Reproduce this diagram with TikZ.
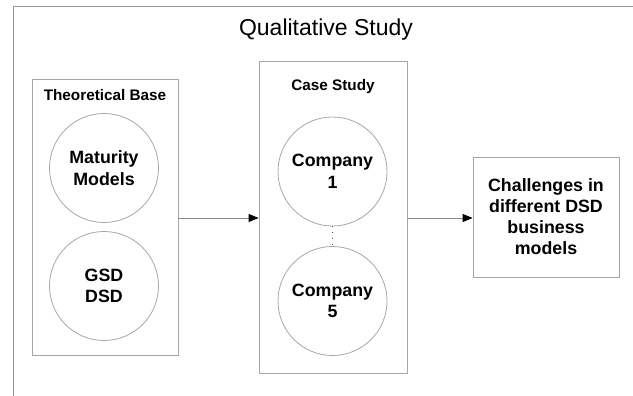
\documentclass[tikz,border=0pt]{standalone}
\usepackage{fontspec}
\setmainfont{Liberation Sans}
\usetikzlibrary{positioning,arrows.meta}

\begin{document}
\begin{tikzpicture}[x=1pt,y=-1pt,
  frame/.style={draw=black!35,line width=0.8pt},
  blockbox/.style={frame,rectangle,inner sep=0pt},
  topic/.style={frame,circle,minimum size=109pt,inner sep=0pt,align=center,font=\fontsize{17.8}{21.5}\selectfont\bfseries},
  heading/.style={font=\fontsize{15.3}{18}\selectfont\bfseries},
  flow/.style={draw=black!45,line width=0.8pt,-{Triangle[length=10pt,width=8pt,black]}}]
\useasboundingbox (0,0) rectangle (633,396);
% open outer frame with the title
\draw[draw=black!40,line width=1pt] (633,7) -- (13,7) -- (13,396);
\node[font=\fontsize{23}{27}\selectfont] (title) at (326,30) {Qualitative Study};
% theoretical base
\node[blockbox,minimum width=146pt,minimum height=276pt] (theory) at (105,217) {};
\node[heading] (theoryhead) at (105,95) {Theoretical Base};
\node[topic] (maturity) at (104,168) {Maturity\\Models};
\node[topic] (gsd) at (104,286) {GSD\\DSD};
% case study with the companies
\node[blockbox,minimum width=148pt,minimum height=312pt] (casestudy) at (333,217) {};
\node[heading] (casehead) at (333,87) {Case Study};
\node[topic] (company1) at (332.5,171.5) {Company\\1};
\node[topic] (company5) at (332.5,301) {Company\\5};
\draw[draw=black!70,line width=1pt,dash pattern=on 1pt off 5pt] (company1) -- (company5);
% result
\node[blockbox,minimum width=146pt,minimum height=120pt,align=center,font=\fontsize{17.8}{21}\selectfont\bfseries] (challenges) at (546,217) {Challenges in\\different DSD\\business\\models};
% flow between the blocks
\draw[flow] (theory.east |- 0,218) -- (casestudy.west |- 0,218);
\draw[flow] (casestudy.east |- 0,218) -- (challenges.west |- 0,218);
\end{tikzpicture}
\end{document}
